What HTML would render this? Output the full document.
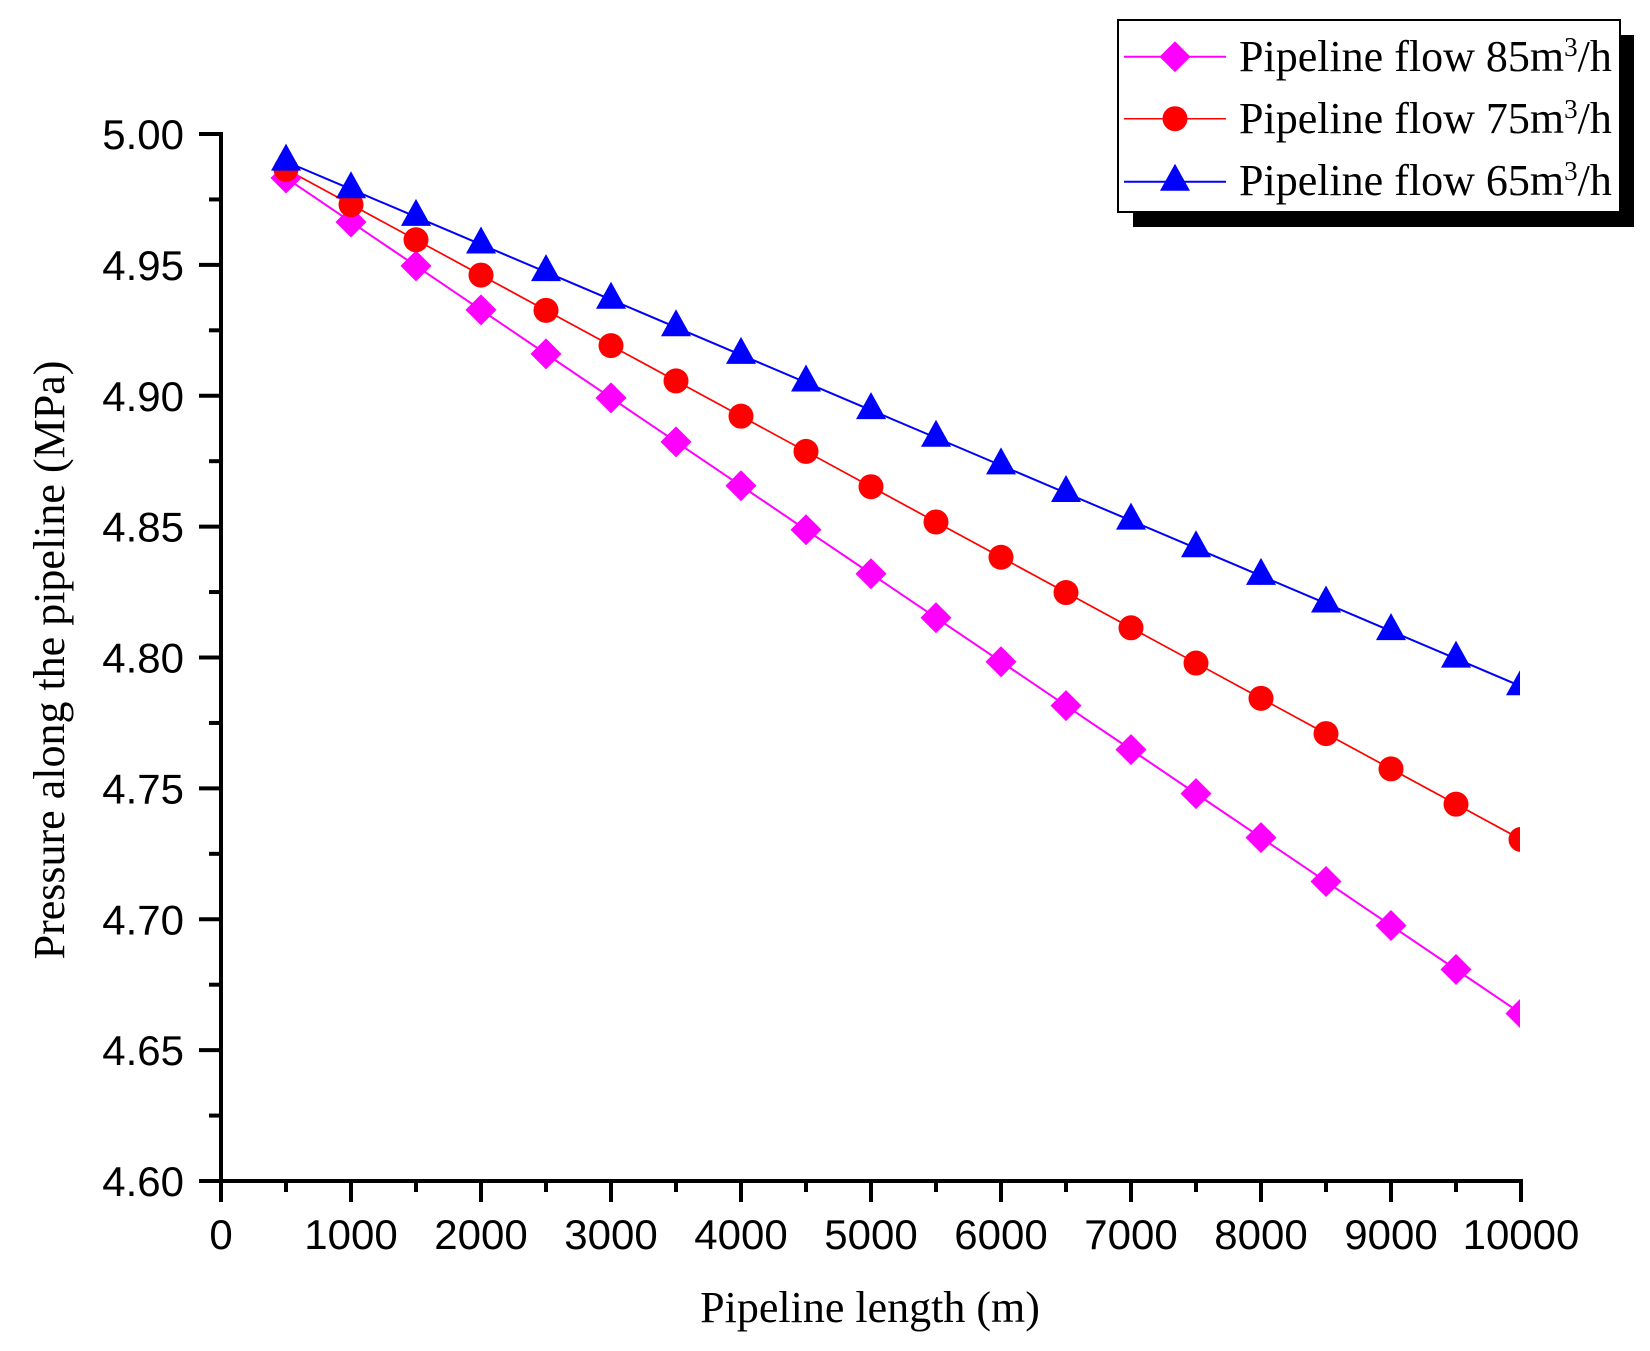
<!DOCTYPE html>
<html><head><meta charset="utf-8"><style>
html,body{margin:0;padding:0;background:#fff;}
svg{display:block;}
</style></head><body>
<svg xmlns="http://www.w3.org/2000/svg" width="1650" height="1351" viewBox="0 0 1650 1351">
<rect x="0" y="0" width="1650" height="1351" fill="#fff"/>
<defs>
<clipPath id="pc"><rect x="221" y="100" width="1299" height="1081"/></clipPath>
</defs>
<g id="axes" stroke="#000" stroke-width="4" fill="none">
<path d="M199,134 H221 V1202"/>
<path d="M199,1181 H1521 V1202"/>
</g>
<g id="ticks" stroke="#000" stroke-width="4"></g>
<g id="labels" font-family="'Liberation Sans', Arial, sans-serif" font-size="42" fill="#000"></g>
<text x="870" y="1322" font-family="'Liberation Serif', 'Times New Roman', serif" font-size="44" text-anchor="middle" fill="#000">Pipeline length (m)</text>
<text transform="translate(64,660) rotate(-90)" font-family="'Liberation Serif', 'Times New Roman', serif" font-size="44" text-anchor="middle" fill="#000">Pressure along the pipeline (MPa)</text>
<g id="data" clip-path="url(#pc)"></g>
<g id="legend">
<rect x="1133" y="35" width="501" height="192" fill="#000"/>
<rect x="1118" y="20" width="502" height="192" fill="#fff" stroke="#000" stroke-width="2"/>
<line x1="1124" y1="56.7" x2="1226" y2="56.7" stroke="#FF00FF" stroke-width="2"/>
<polygon points="1175,41.2 1190.5,56.7 1175,72.2 1159.5,56.7" fill="#FF00FF"/>
<line x1="1124" y1="118.7" x2="1226" y2="118.7" stroke="#FF0000" stroke-width="1.5"/>
<circle cx="1175" cy="118.7" r="12.5" fill="#FF0000"/>
<line x1="1124" y1="181.7" x2="1226" y2="181.7" stroke="#0000FF" stroke-width="2"/>
<polygon points="1175,163.7 1190,190.7 1160,190.7" fill="#0000FF"/>
<g font-family="'Liberation Serif', 'Times New Roman', serif" font-size="44" fill="#000">
<text x="1239" y="71">Pipeline flow 85m<tspan font-size="27" dy="-15">3</tspan><tspan dy="15">/h</tspan></text>
<text x="1239" y="133">Pipeline flow 75m<tspan font-size="27" dy="-15">3</tspan><tspan dy="15">/h</tspan></text>
<text x="1239" y="195">Pipeline flow 65m<tspan font-size="27" dy="-15">3</tspan><tspan dy="15">/h</tspan></text>
</g>
</g>
<script>
(function(){
var NS="http://www.w3.org/2000/svg";
function el(t,a,p){var e=document.createElementNS(NS,t);for(var k in a)e.setAttribute(k,a[k]);p.appendChild(e);return e;}
var ticks=document.getElementById('ticks'),labels=document.getElementById('labels'),data=document.getElementById('data');
var x0=221,xs=0.13,yb=1181,ys=2617.5;
function X(v){return x0+v*xs;}
function Y(p){return yb-(p-4.6)*ys;}
var ylab=["4.60","4.65","4.70","4.75","4.80","4.85","4.90","4.95","5.00"];
for(var k=0;k<=8;k++){
 var y=Y(4.6+0.05*k);
 el('line',{x1:199,y1:y,x2:221,y2:y},ticks);
 if(k<8){var ym=Y(4.6+0.05*k+0.025);el('line',{x1:209,y1:ym,x2:221,y2:ym},ticks);}
 var t=el('text',{x:184,y:y+15,'text-anchor':'end'},labels);t.textContent=ylab[k];
}
for(var i=0;i<=10;i++){
 var x=X(i*1000);
 el('line',{x1:x,y1:1181,x2:x,y2:1202},ticks);
 if(i<10){var xm=X(i*1000+500);el('line',{x1:xm,y1:1181,x2:xm,y2:1192},ticks);}
 var t2=el('text',{x:x,y:1249,'text-anchor':'middle'},labels);t2.textContent=String(i*1000);
}
var series=[
 {c:'#0000FF',s:0.0000211,m:'tri',w:2},
 {c:'#FF0000',s:0.00002695,m:'cir',w:1.7},
 {c:'#FF00FF',s:0.0000336,m:'dia',w:2}
];
series.forEach(function(se){
 var pts=[];
 for(var L=500;L<=10000;L+=500){pts.push([X(L),Y(5.0-se.s*L)]);}
 el('polyline',{points:pts.map(function(p){return p[0]+','+p[1];}).join(' '),fill:'none',stroke:se.c,'stroke-width':se.w},data);
});
var order=[series[2],series[1],series[0]];
order.forEach(function(se){
 for(var L=500;L<=10000;L+=500){
  var px=X(L),py=Y(5.0-se.s*L);
  if(se.m==='tri')el('polygon',{points:px+','+(py-18)+' '+(px+15)+','+(py+9)+' '+(px-15)+','+(py+9),fill:se.c},data);
  else if(se.m==='cir')el('circle',{cx:px,cy:py,r:12.5,fill:se.c},data);
  else el('polygon',{points:px+','+(py-15.5)+' '+(px+15.5)+','+py+' '+px+','+(py+15.5)+' '+(px-15.5)+','+py,fill:se.c},data);
 }
});
})();
</script>
</svg>
</body></html>
